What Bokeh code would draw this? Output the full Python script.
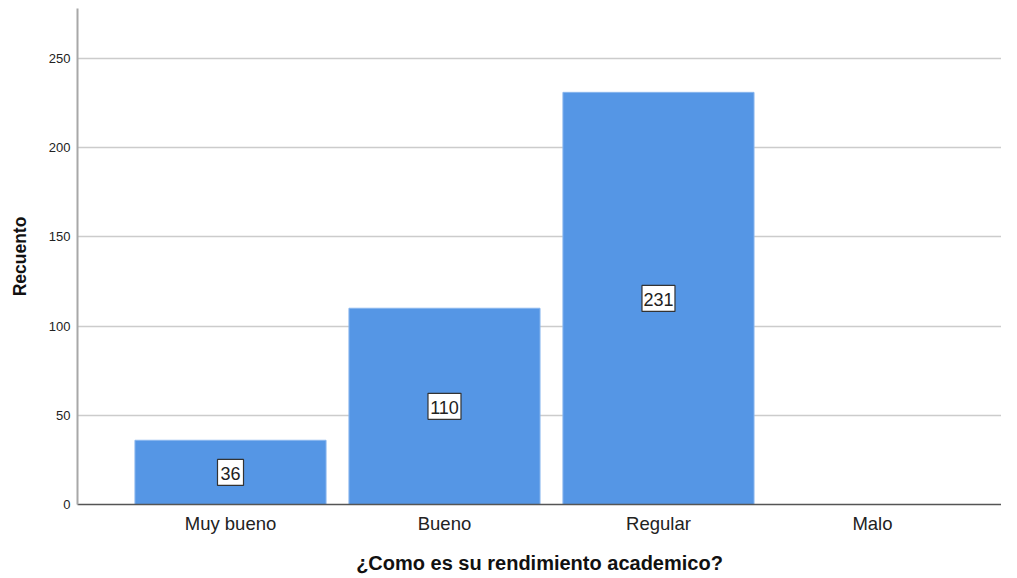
from bokeh.plotting import figure
from bokeh.models import ColumnDataSource, FixedTicker, Range1d
from bokeh.core.properties import value
from bokeh.embed import file_html
from bokeh.resources import INLINE

categories = ["Muy bueno", "Bueno", "Regular", "Malo"]
counts = [36, 110, 231, 0]
y_ticks = [0, 50, 100, 150, 200, 250]

pos = list(range(len(categories)))

p = figure(frame_width=924, frame_height=496, output_backend="svg", toolbar_location=None,
           x_range=Range1d(-0.715, 3.603), y_range=Range1d(0, 278),
           min_border_left=77, min_border_right=0, min_border_top=8, min_border_bottom=0)
p.outline_line_color = None
p.background_fill_color = "white"

bx = [x for x, c in zip(pos, counts) if c > 0]
bt = [c for c in counts if c > 0]
lab = [str(c) for c in bt]
src_bars = ColumnDataSource(dict(x=bx, top=bt, mid=[c / 2 for c in bt], lab=lab,
                                 bw=[12 + 7 * len(s) for s in lab]))
p.vbar(x="x", top="top", width=0.893, source=src_bars, fill_color="#5596e5",
       line_color="#8ab6ee", line_width=1)

p.rect(x="x", y="mid", width="bw", height=26, width_units="screen", height_units="screen",
       source=src_bars, fill_color="white", line_color="#333333", line_width=1.2)
p.text(x="x", y="mid", text="lab", source=src_bars, text_align="center",
       text_baseline="middle", text_font=value("Liberation Sans"),
       text_font_size="18px", text_color="#222222", y_offset=1)

p.xaxis.ticker = FixedTicker(ticks=pos)
p.xaxis.major_label_overrides = {i: c for i, c in enumerate(categories)}
p.yaxis.ticker = FixedTicker(ticks=y_ticks)

for ax in (p.xaxis, p.yaxis):
    ax.major_tick_line_color = None
    ax.minor_tick_line_color = None
    ax.major_tick_out = 0
    ax.major_tick_in = 0
    ax.minor_tick_out = 0
    ax.minor_tick_in = 0
    ax.major_label_text_font = "Liberation Sans"
    ax.axis_label_text_font = "Liberation Sans"
    ax.axis_label_text_font_style = "bold"
    ax.axis_label_text_color = "#111111"
    ax.major_label_text_color = "#222222"

p.xaxis.axis_label = "¿Como es su rendimiento academico?"
p.xaxis.axis_label_text_font_size = "20px"
p.xaxis.major_label_text_font_size = "18.5px"
p.xaxis.major_label_standoff = 8
p.xaxis.axis_label_standoff = 15
p.xaxis.axis_line_color = "#555555"
p.xaxis.axis_line_width = 1.5

p.yaxis.axis_label = "Recuento"
p.yaxis.axis_label_text_font_size = "17.5px"
p.yaxis.major_label_text_font_size = "13px"
p.yaxis.major_label_standoff = 7
p.yaxis.axis_label_standoff = 16
p.yaxis.axis_line_color = "#a8a8a8"
p.yaxis.axis_line_width = 2

p.xgrid.grid_line_color = None
p.ygrid.grid_line_color = "#cccccc"
p.ygrid.grid_line_width = 1.5

open("out.html", "w").write(file_html(p, INLINE))
